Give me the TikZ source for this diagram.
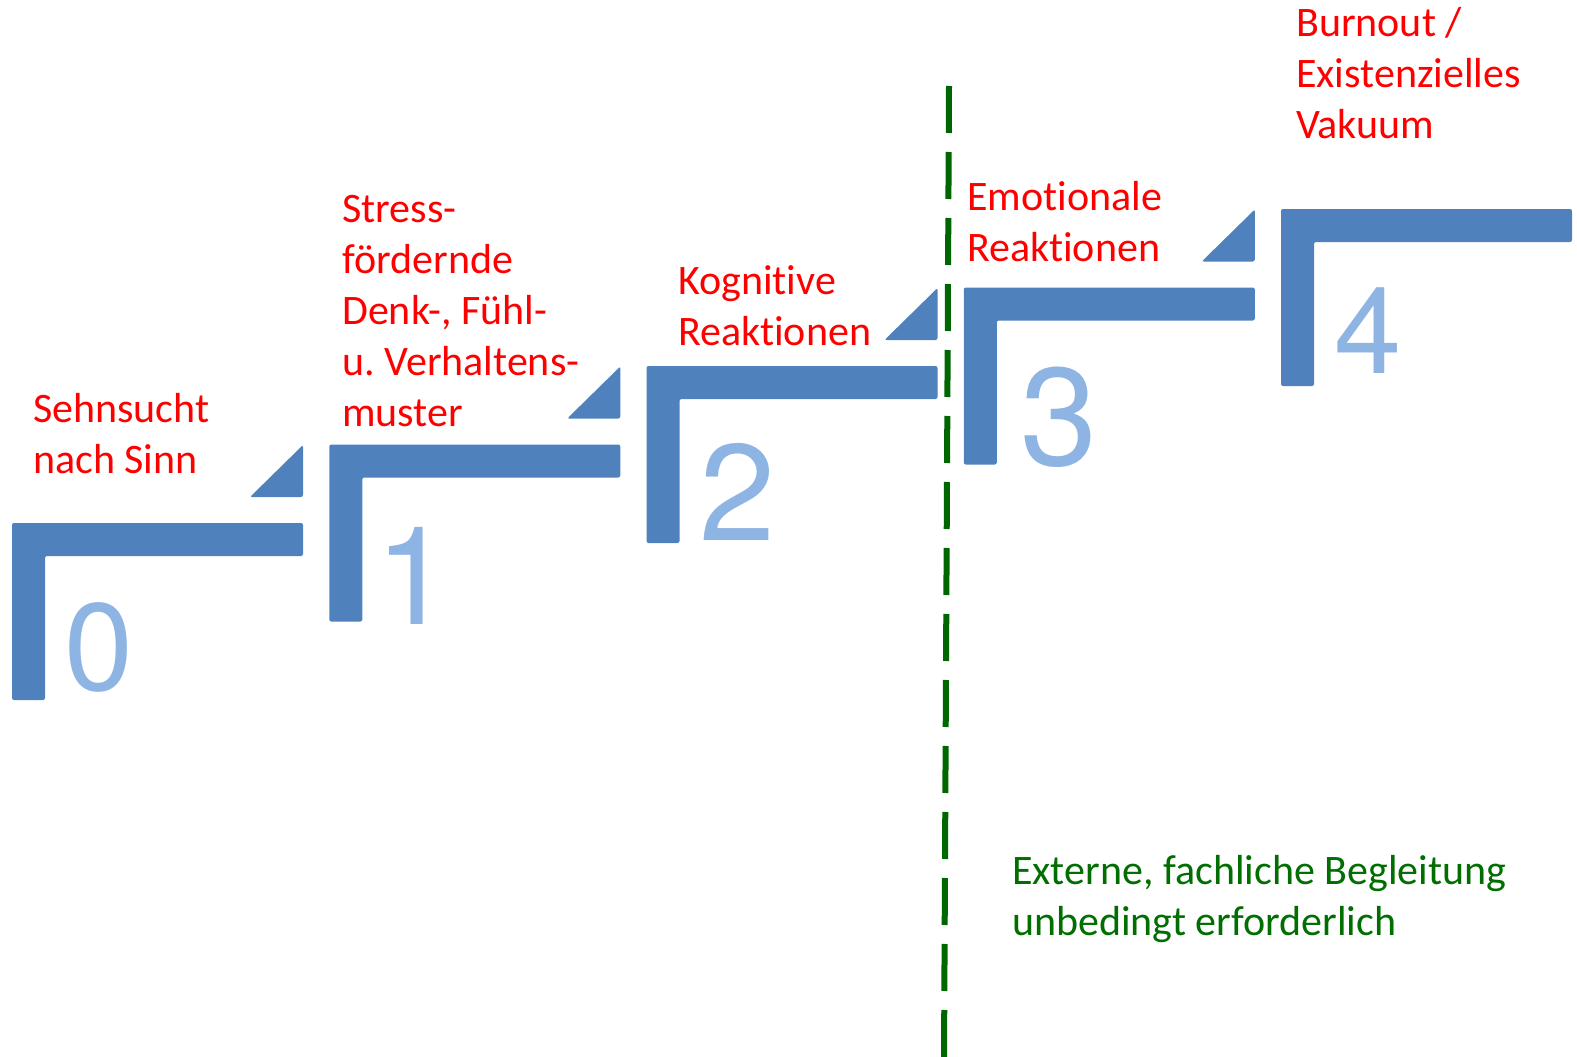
\documentclass[tikz,border=0pt]{standalone}
\usepackage{fontspec}
\setmainfont{Carlito}[Ligatures=NoCommon]
\newfontfamily\digitfont{TeX Gyre Heros}
\definecolor{stepblue}{HTML}{4F81BD}
\definecolor{digitblue}{HTML}{8DB4E2}
\definecolor{labelred}{HTML}{FF0000}
\definecolor{linegreen}{HTML}{006600}
\definecolor{textgreen}{HTML}{006E00}
\frenchspacing
\tikzset{
  stepshape/.style={fill=stepblue, rounded corners=2pt},
  digit/.style={anchor=base west, inner sep=0pt, text=digitblue},
  redlabel/.style={anchor=base west, inner sep=0pt, align=left, text=labelred,
    font=\fontsize{42}{50.8}\selectfont},
  greenlabel/.style={anchor=base west, inner sep=0pt, align=left, text=textgreen,
    font=\fontsize{42}{50.5}\selectfont},
  borderline/.style={draw=linegreen, line width=6pt, dash pattern=on 47pt off 19pt}
}
\begin{document}
\begin{tikzpicture}[x=1pt,y=-1pt]
\useasboundingbox (0,0) rectangle (1577,1057);
% stairs
\foreach \i in {0,...,4}{
  \pgfmathsetmacro\sx{12+317.25*\i}
  \pgfmathsetmacro\sy{523-78.5*\i}
  \fill[stepshape] (\sx,\sy) -- ++(291,0) -- ++(0,33) -- ++(-258,0) -- ++(0,144) -- ++(-33,0) -- cycle;
}
\foreach \i in {0,...,3}{
  \pgfmathsetmacro\tx{12+317.25*\i+291}
  \pgfmathsetmacro\ty{523-78.5*\i-26}
  \fill[stepshape] (\tx,\ty) -- ++(0,-52) -- ++(-53,52) -- cycle;
}
% digits
\node[digit, font={\digitfont\fontsize{124}{124}\selectfont}] (d0) at (64,690) {0};
\node[digit, font={\digitfont\fontsize{137}{137}\selectfont}] (d1) at (375,624) {1};
\node[digit, font={\digitfont\fontsize{137}{137}\selectfont}] (d2) at (699,540) {2};
\node[digit, font={\digitfont\fontsize{139}{139}\selectfont}] (d3) at (1020,465) {3};
\node[digit, font={\digitfont\fontsize{121}{121}\selectfont}] (d4) at (1334,373) {4};
% labels (anchored at the baseline of the last line)
\node[redlabel] (l0) at (33,473) {Sehnsucht\\nach Sinn};
\node[redlabel] (l1) at (342,426) {Stress-\\fördernde\\Denk-, Fühl-\\u. Verhaltens-\\muster};
\node[redlabel] (l2) at (678,345) {Kognitive\\Reaktionen};
\node[redlabel] (l3) at (967,261) {Emotionale\\Reaktionen};
\node[redlabel] (l4) at (1296,138) {Burnout /\\Existenzielles\\Vakuum};
% border line
\coordinate (ltop) at (949,86);
\coordinate (lbot) at (944,1060);
\draw[borderline] (ltop) -- (lbot);
\node[greenlabel] (g) at (1012,935) {Externe, fachliche Begleitung\\unbedingt erforderlich};
\end{tikzpicture}
\end{document}
